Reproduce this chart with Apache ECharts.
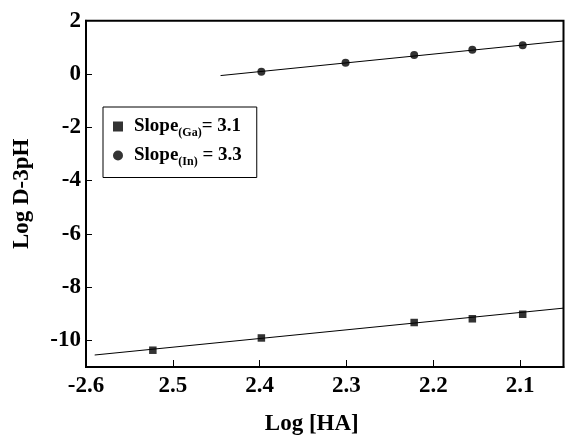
<!DOCTYPE html>
<html>
<head>
<meta charset="utf-8">
<script src="https://cdn.jsdelivr.net/npm/echarts@6/dist/echarts.min.js"></script>
<style>
  html, body { margin: 0; padding: 0; background: #fff; }
  #chart { width: 565px; height: 441px; }
</style>
</head>
<body>
<div id="chart"></div>
<script>
// Axis ticks
const xTickValues = [-2.6, -2.5, -2.4, -2.3, -2.2, -2.1];
const xTickLabels = ['-2.6', '2.5', '2.4', '2.3', '2.2', '2.1'];
const yTickValues = [-10, -8, -6, -4, -2, 0, 2];

// Measured points: Log[HA] vs Log D - 3pH
const gaLogHA = [-2.523, -2.398, -2.222, -2.155, -2.097];
const gaLogD  = [-10.37, -9.91, -9.33, -9.19, -9.02];
const inLogHA = [-2.398, -2.301, -2.222, -2.155, -2.097];
const inLogD  = [0.08, 0.42, 0.71, 0.91, 1.08];

// Fitted straight lines (end points)
const gaFitX = [-2.59, -2.05];
const gaFitY = [-10.55, -8.79];
const inFitX = [-2.445, -2.05];
const inFitY = [-0.06, 1.24];

// Legend entries
const seriesNames = ['Ga', 'In'];
const slopeTexts = ['= 3.1', ' = 3.3'];
const legendIcons = ['path://M0,0L10,0L10,10L0,10Z', 'circle'];

const FONT = "'Liberation Serif', 'Times New Roman', serif";
const pairs = (xs, ys) => xs.map((x, i) => [x, ys[i]]);

const chart = echarts.init(document.getElementById('chart'), null, { renderer: 'canvas' });

chart.setOption({
  animation: false,
  backgroundColor: '#fff',
  grid: {
    left: 86, right: 1.5, top: 20.7, bottom: 71,
    show: true, borderColor: '#000', borderWidth: 2, backgroundColor: 'transparent'
  },
  legend: {
    data: seriesNames.map((n, i) => ({ name: n, icon: legendIcons[i] })),
    orient: 'vertical',
    left: 103, top: 107,
    padding: [10, 15, 10, 10],
    itemGap: 7.5,
    itemWidth: 22,
    itemHeight: 10,
    symbolKeepAspect: true,
    borderColor: '#000',
    borderWidth: 1,
    backgroundColor: '#fff',
    formatter: name => {
      const i = seriesNames.indexOf(name);
      return '{t|Slope}{s|(' + name + ')}{t|' + slopeTexts[i] + '}';
    },
    textStyle: {
      color: '#000',
      rich: {
        t: { fontFamily: FONT, fontWeight: 'bold', fontSize: 19, lineHeight: 24, color: '#000', verticalAlign: 'middle' },
        s: { fontFamily: FONT, fontWeight: 'bold', fontSize: 12, lineHeight: 14, color: '#000', verticalAlign: 'bottom' }
      }
    }
  },
  xAxis: {
    type: 'value',
    min: -2.6, max: -2.05,
    name: 'Log [HA]',
    nameLocation: 'middle',
    nameGap: 46,
    nameTextStyle: { fontFamily: FONT, fontWeight: 'bold', fontSize: 23, color: '#000', padding: [0, 26, 0, 0] },
    axisLine: { show: true, onZero: false, lineStyle: { color: '#000', width: 2 } },
    axisTick: { show: true, inside: true, length: 7, customValues: xTickValues, lineStyle: { color: '#000', width: 1 } },
    axisLabel: {
      customValues: xTickValues,
      margin: 8,
      fontFamily: FONT, fontWeight: 'bold', fontSize: 23, color: '#000',
      formatter: v => {
        const i = xTickValues.findIndex(t => Math.abs(t - v) < 1e-6);
        return i >= 0 ? xTickLabels[i] : '';
      }
    },
    splitLine: { show: false }
  },
  yAxis: {
    type: 'value',
    min: -11, max: 2,
    name: 'Log D-3pH',
    nameLocation: 'middle',
    nameGap: 52,
    nameTextStyle: { fontFamily: FONT, fontWeight: 'bold', fontSize: 23, color: '#000' },
    axisLine: { show: true, onZero: false, lineStyle: { color: '#000', width: 2 } },
    axisTick: { show: true, inside: true, length: 6, customValues: yTickValues, lineStyle: { color: '#000', width: 1 } },
    axisLabel: {
      customValues: yTickValues,
      margin: 5,
      fontFamily: FONT, fontWeight: 'bold', fontSize: 23, color: '#000'
    },
    splitLine: { show: false }
  },
  series: [
    {
      name: 'Ga-fit', type: 'line', data: pairs(gaFitX, gaFitY),
      showSymbol: false, symbol: 'none', silent: true,
      lineStyle: { color: '#000', width: 1 }
    },
    {
      name: 'In-fit', type: 'line', data: pairs(inFitX, inFitY),
      showSymbol: false, symbol: 'none', silent: true,
      lineStyle: { color: '#000', width: 1 }
    },
    {
      name: 'Ga', type: 'scatter', data: pairs(gaLogHA, gaLogD),
      symbol: 'rect', symbolSize: 7.5,
      itemStyle: { color: '#000' }, z: 3
    },
    {
      name: 'In', type: 'scatter', data: pairs(inLogHA, inLogD),
      symbol: 'circle', symbolSize: 8,
      itemStyle: { color: '#000' }, z: 3
    }
  ]
});
</script>
</body>
</html>
